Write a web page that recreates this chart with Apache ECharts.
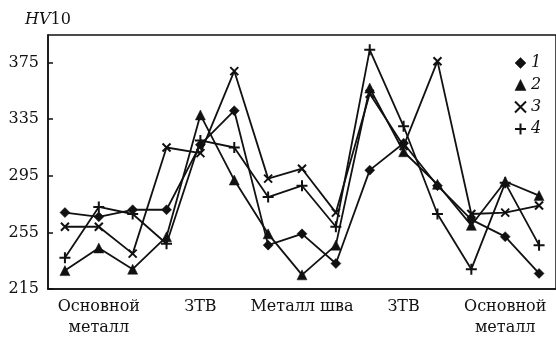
<!DOCTYPE html>
<html>
<head>
<meta charset="utf-8">
<script src="https://cdn.jsdelivr.net/npm/echarts@6/dist/echarts.min.js"></script>
<style>
html,body{margin:0;padding:0;background:#fff;}
#chart{width:556px;height:338px;}
</style>
</head>
<body>
<div id="chart"></div>
<script>
// Categories (measurement positions) and their axis labels
const categories = ['p1','p2','p3','p4','p5','p6','p7','p8','p9','p10','p11','p12','p13','p14','p15'];
const tickLabels = ['', 'Основной\nметалл', '', '', 'ЗТВ', '', '', 'Металл шва', '', '', 'ЗТВ', '', '', 'Основной\nметалл', ''];
const seriesNames = ['1', '2', '3', '4'];
const s1 = [269, 266, 271, 271, 317, 341, 246, 254, 233, 299, 318, 288, 264, 252, 226];
const s2 = [228, 244, 229, 252, 338, 292, 254, 225, 246, 357, 312, 289, 260, 291, 281];
const s3 = [259, 259, 240, 315, 311, 369, 293, 300, 269, 353, 316, 376, 268, 269, 274];
const s4 = [237, 273, 268, 247, 320, 315, 280, 288, 259, 384, 330, 268, 229, 290, 246];
const yTicks = [215, 255, 295, 335, 375];

const crossPath = 'path://M0,0L10,10M10,0L0,10';
const plusPath = 'path://M5,0L5,10M0,5L10,5';
const symbols = ['diamond', 'triangle', crossPath, plusPath];
const sizes = [10, 10, 8, 11];
const borders = [0.5, 0.5, 2, 2];
const values = [s1, s2, s3, s4];

const chart = echarts.init(document.getElementById('chart'));
const font = 'DejaVu Serif';
chart.setOption({
  animation: false,
  backgroundColor: '#fff',
  title: {
    text: '{i|HV}{n|10}',
    left: 20, top: 7,
    textStyle: {
      rich: {
        i: {fontFamily: font, fontStyle: 'italic', fontWeight: 'normal', fontSize: 16, color: '#111'},
        n: {fontFamily: font, fontWeight: 'normal', fontSize: 16, color: '#111'}
      }
    }
  },
  grid: {left: 48, top: 35, width: 519, height: 260, show: true, borderColor: '#111', borderWidth: 1.5, containLabel: false},
  legend: {
    orient: 'vertical',
    left: 509, top: 50,
    itemWidth: 11, itemHeight: 11, itemGap: 6,
    textStyle: {fontFamily: font, fontStyle: 'italic', fontSize: 16, color: '#111'},
    itemStyle: {color: '#111', borderColor: '#111'},
    data: seriesNames.map((n, i) => ({name: n, icon: symbols[i], itemStyle: {borderWidth: borders[i]}}))
  },
  xAxis: {
    type: 'category',
    data: categories,
    boundaryGap: true,
    axisLine: {lineStyle: {color: '#111', width: 1.5}},
    axisTick: {inside: true, length: 5, alignWithLabel: true, lineStyle: {color: '#111', width: 1.5},
      interval: (idx) => tickLabels[idx] !== ''},
    axisLabel: {interval: 0, margin: 7, fontFamily: font, fontSize: 16, lineHeight: 21, color: '#111',
      formatter: (v, idx) => tickLabels[idx]},
    splitLine: {show: false}
  },
  yAxis: {
    type: 'value',
    min: yTicks[0], max: 394.5, interval: 40,
    axisLine: {show: true, lineStyle: {color: '#111', width: 1.5}},
    axisTick: {show: true, inside: true, length: 5, lineStyle: {color: '#111', width: 1.5}},
    axisLabel: {margin: 9, fontFamily: font, fontSize: 16, color: '#111', showMaxLabel: false,
      formatter: (v) => yTicks.indexOf(v) >= 0 ? String(v) : ''},
    splitLine: {show: false}
  },
  series: seriesNames.map((n, i) => ({
    name: n,
    type: 'line',
    data: values[i],
    symbol: symbols[i],
    symbolSize: sizes[i],
    showAllSymbol: true,
    lineStyle: {color: '#111', width: 1.8},
    itemStyle: {color: '#111', borderColor: '#111', borderWidth: borders[i]},
    emphasis: {disabled: true}
  }))
});
</script>
</body>
</html>
